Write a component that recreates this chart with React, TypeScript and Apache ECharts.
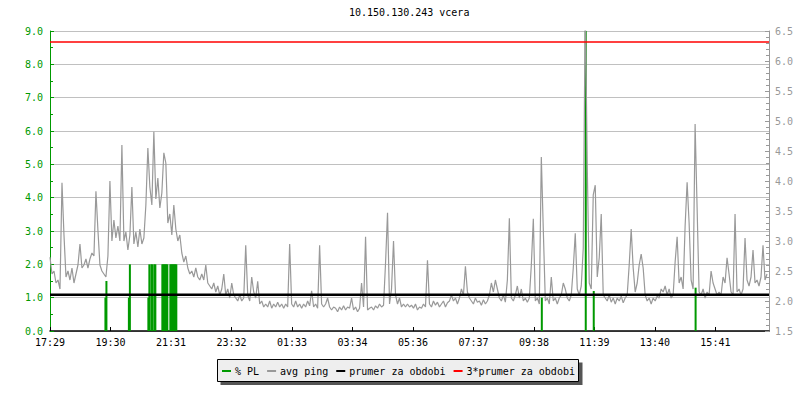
import React, { useEffect, useRef } from "react";
import * as echarts from "echarts";

const titleText = "10.150.130.243 vcera";
const timeLabels = ["17:29", "19:30", "21:31", "23:32", "01:33", "03:34", "05:36", "07:37", "09:38", "11:39", "13:40", "15:41"];
const tickStepMin = 121.15;
const spanMin = 1440;
const pingStepMin = 4;

// avg ping (right axis), one value per 4 minutes starting 17:29
const avgPing = [
  2.73, 2.45, 2.5, 2.3, 2.35, 2.2, 3.97, 3.1, 2.4, 2.5,
  2.35, 2.55, 2.3, 2.45, 2.6, 2.95, 2.55, 2.6, 2.7, 2.55,
  2.7, 2.8, 2.75, 3.83, 3.18, 2.6, 2.5, 2.45, 2.4, 2.75,
  4.0, 3.0, 3.35, 3.05, 3.25, 3.0, 4.6, 3.0, 3.15, 2.85,
  3.1, 3.9, 2.95, 3.15, 2.9, 3.2, 2.95, 3.05, 3.6, 4.55,
  3.9, 3.6, 4.82, 3.7, 4.05, 3.55, 3.8, 4.47, 4.3, 3.3,
  3.45, 3.1, 3.6, 3.2, 3.0, 3.1, 2.8, 2.65, 2.75, 2.55,
  2.45, 2.5, 2.4, 2.55, 2.4, 2.35, 2.45, 2.35, 2.6, 2.3,
  2.25, 2.2, 2.3, 2.15, 2.25, 2.1, 2.2, 2.45, 2.1, 2.2,
  2.05, 2.3, 2.1, 2.05, 2.0, 2.1, 2.0, 2.05, 2.93, 2.1,
  2.0, 2.4, 2.15, 2.05, 2.33, 1.95, 2.0, 1.9, 1.95, 1.9,
  2.0, 1.88, 1.95, 1.9, 1.98, 1.9, 1.95, 1.88, 1.95, 1.9,
  2.95, 1.95, 1.9, 2.0, 1.9, 1.95, 1.88, 1.95, 1.9, 2.0,
  1.92, 2.17, 1.9, 1.95, 1.88, 2.93, 1.95, 1.9, 1.95, 2.05,
  1.9, 1.85, 1.9, 1.88, 1.82, 1.9, 1.85, 1.92, 1.85, 1.9,
  1.88, 2.05, 1.85, 1.9, 1.82, 1.88, 2.3, 1.9, 3.07, 1.85,
  1.88, 1.9, 1.85, 1.92, 1.88, 1.95, 1.9, 1.93, 2.63, 3.47,
  1.95, 2.2, 3.0, 2.1, 1.95, 2.05, 1.9, 1.95, 1.9, 1.95,
  1.9, 1.93, 1.88, 1.95, 1.85, 1.9, 1.88, 1.95, 1.9, 2.68,
  1.95, 1.9, 2.0, 1.93, 1.98, 1.9, 1.95, 2.0, 1.9, 1.97,
  2.0, 2.1, 2.0, 2.05, 1.95, 2.05, 2.2, 2.1, 2.58, 2.15,
  2.05, 2.0, 1.95, 2.05, 1.98, 2.0, 1.93, 2.02, 1.95, 2.0,
  2.1, 2.3, 2.15, 2.35, 2.2, 2.05, 2.0, 2.1, 1.98, 2.35,
  3.38, 2.05, 2.0, 2.1, 2.25, 2.05, 2.2, 2.0, 2.05, 1.98,
  2.05, 2.6, 3.37, 2.0, 2.05, 1.95, 4.4, 3.18, 2.0, 2.05,
  1.95, 2.4, 2.0, 2.05, 1.95, 2.05, 2.1, 2.3, 2.2, 2.05,
  2.0, 2.1, 2.55, 3.13, 2.2, 2.1, 2.25, 2.88, 7.0, 4.25,
  2.3, 2.2, 3.77, 3.93, 2.4, 2.72, 3.45, 2.1, 2.05, 2.0,
  2.1, 1.98, 2.05, 1.95, 2.05, 2.0, 2.08, 1.97, 2.05, 2.1,
  2.6, 3.2, 2.55, 2.15, 2.3, 2.6, 2.78, 2.55, 2.1, 2.0,
  2.05, 1.95, 2.05, 2.0, 2.08, 2.05, 2.2, 2.15, 2.25, 2.1,
  2.2, 2.05, 2.1, 2.65, 3.07, 2.3, 2.4, 2.2, 3.25, 3.98,
  3.3, 2.35, 2.2, 4.95, 3.55, 2.15, 2.1, 2.2, 2.05, 2.15,
  2.1, 2.5, 2.3, 2.2, 2.1, 2.15, 2.1, 2.4, 2.3, 2.72,
  2.45, 2.15, 2.1, 3.45, 2.15, 2.2, 2.1, 2.2, 3.05, 2.35,
  2.25, 2.4, 2.85, 2.3, 2.35, 2.25, 2.4, 2.93, 2.35, 2.45,
];

// % packet loss (left axis): minutes after 17:29 and values
const plTimes = [111, 113, 158, 160, 197, 199, 203, 205, 209, 211, 225, 227, 229, 231, 233, 235, 241, 243, 245, 247, 249, 251, 253, 985, 1073, 1089, 1293];
const plValues = [1.0, 1.5, 1.0, 2.0, 1.0, 2.0, 2.0, 2.0, 2.0, 2.0, 2.0, 2.0, 2.0, 2.0, 2.0, 2.0, 2.0, 2.0, 2.0, 2.0, 2.0, 2.0, 2.0, 1.0, 9.0, 1.2, 1.3];

const meanPing = 2.105;
const meanPing3 = 6.315;

const seriesNames = ["% PL", "avg ping", "prumer za obdobi", "3*prumer za obdobi"];
const GREEN = "#009900";
const GRAY = "#999999";
const FONT = "DejaVu Sans Mono";

export default function App() {
  const ref = useRef<HTMLDivElement>(null);
  useEffect(() => {
    if (!ref.current) return;
    const chart = echarts.init(ref.current, null, { renderer: "svg" });
    const pingData = avgPing.map((v, i) => [i * pingStepMin, v]);
    const plData = plTimes.map((t, i) => [t, plValues[i]]);
    chart.setOption({
      animation: false,
      backgroundColor: "#ffffff",
      title: {
        text: titleText,
        left: 349,
        top: 7,
        padding: 0,
        textStyle: { fontFamily: FONT, fontSize: 10, fontWeight: "normal", color: "#000" },
      },
      graphic: [
        { type: "rect", z: 0, shape: { x: 220.5, y: 362.5, width: 362, height: 22.5 }, style: { fill: "#555555" } },
        { type: "rect", z: 1, shape: { x: 217.5, y: 359.5, width: 361, height: 22 }, style: { fill: "#eeeeee", stroke: "#000", lineWidth: 1 } },
      ],
      legend: {
        data: seriesNames,
        left: 222,
        top: 366,
        padding: 0,
        itemWidth: 9,
        itemHeight: 2,
        itemGap: 8,
        icon: "rect",
        z: 10,
        textStyle: { fontFamily: FONT, fontSize: 10, color: "#000", padding: [0, 0, 0, -1] },
      },
      grid: { left: 50, right: 31, top: 31, bottom: 69, containLabel: false },
      xAxis: {
        type: "value",
        min: 0,
        max: spanMin,
        interval: tickStepMin,
        axisLine: { show: true, onZero: false, lineStyle: { color: "#000", width: 1.5 } },
        axisTick: { show: true, inside: true, length: 4, lineStyle: { color: "#000" } },
        splitLine: { show: false },
        axisLabel: {
          fontFamily: FONT,
          fontSize: 10,
          color: "#000",
          margin: 6,
          showMaxLabel: false,
          formatter: (v: number) => timeLabels[Math.round(v / tickStepMin)] ?? "",
        },
      },
      yAxis: [
        {
          type: "value",
          min: 0,
          max: 9,
          interval: 1,
          position: "left",
          axisLine: { show: true, onZero: false, lineStyle: { color: GREEN, width: 1 } },
          axisTick: { show: true, inside: true, length: 4, lineStyle: { color: GREEN } },
          minorTick: { show: true, splitNumber: 2, length: 3, lineStyle: { color: GREEN } },
          splitLine: { show: true, lineStyle: { color: "#c0c0c0", width: 1 } },
          axisLabel: { fontFamily: FONT, fontSize: 10, color: GREEN, margin: 7, formatter: (v: number) => v.toFixed(1) },
        },
        {
          type: "value",
          min: 1.5,
          max: 6.5,
          interval: 0.5,
          position: "right",
          axisLine: { show: true, onZero: false, lineStyle: { color: GRAY, width: 1 } },
          axisTick: { show: true, inside: true, length: 4, lineStyle: { color: GRAY } },
          minorTick: { show: true, splitNumber: 5, length: 3, lineStyle: { color: GRAY } },
          splitLine: { show: false },
          axisLabel: { fontFamily: FONT, fontSize: 10, color: GRAY, margin: 6, formatter: (v: number) => v.toFixed(1) },
        },
      ],
      series: [
        {
          name: seriesNames[0],
          type: "bar",
          yAxisIndex: 0,
          data: plData,
          barWidth: 2,
          itemStyle: { color: GREEN },
          z: 2,
        },
        {
          name: seriesNames[1],
          type: "line",
          yAxisIndex: 1,
          data: pingData,
          showSymbol: false,
          symbol: "none",
          itemStyle: { color: GRAY },
          lineStyle: { color: GRAY, width: 1.2 },
          z: 3,
        },
        {
          name: seriesNames[2],
          type: "line",
          yAxisIndex: 1,
          data: [[0, meanPing], [spanMin, meanPing]],
          symbol: "none",
          itemStyle: { color: "#000000" },
          lineStyle: { color: "#000000", width: 2.5 },
          z: 4,
        },
        {
          name: seriesNames[3],
          type: "line",
          yAxisIndex: 1,
          data: [[0, meanPing3], [spanMin, meanPing3]],
          symbol: "none",
          itemStyle: { color: "#ff0000" },
          lineStyle: { color: "#ff0000", width: 1.5 },
          z: 4,
        },
      ],
    });
    return () => chart.dispose();
  }, []);
  return <div ref={ref} style={{ position: "absolute", left: 0, top: 0, width: 800, height: 400 }} />;
}
